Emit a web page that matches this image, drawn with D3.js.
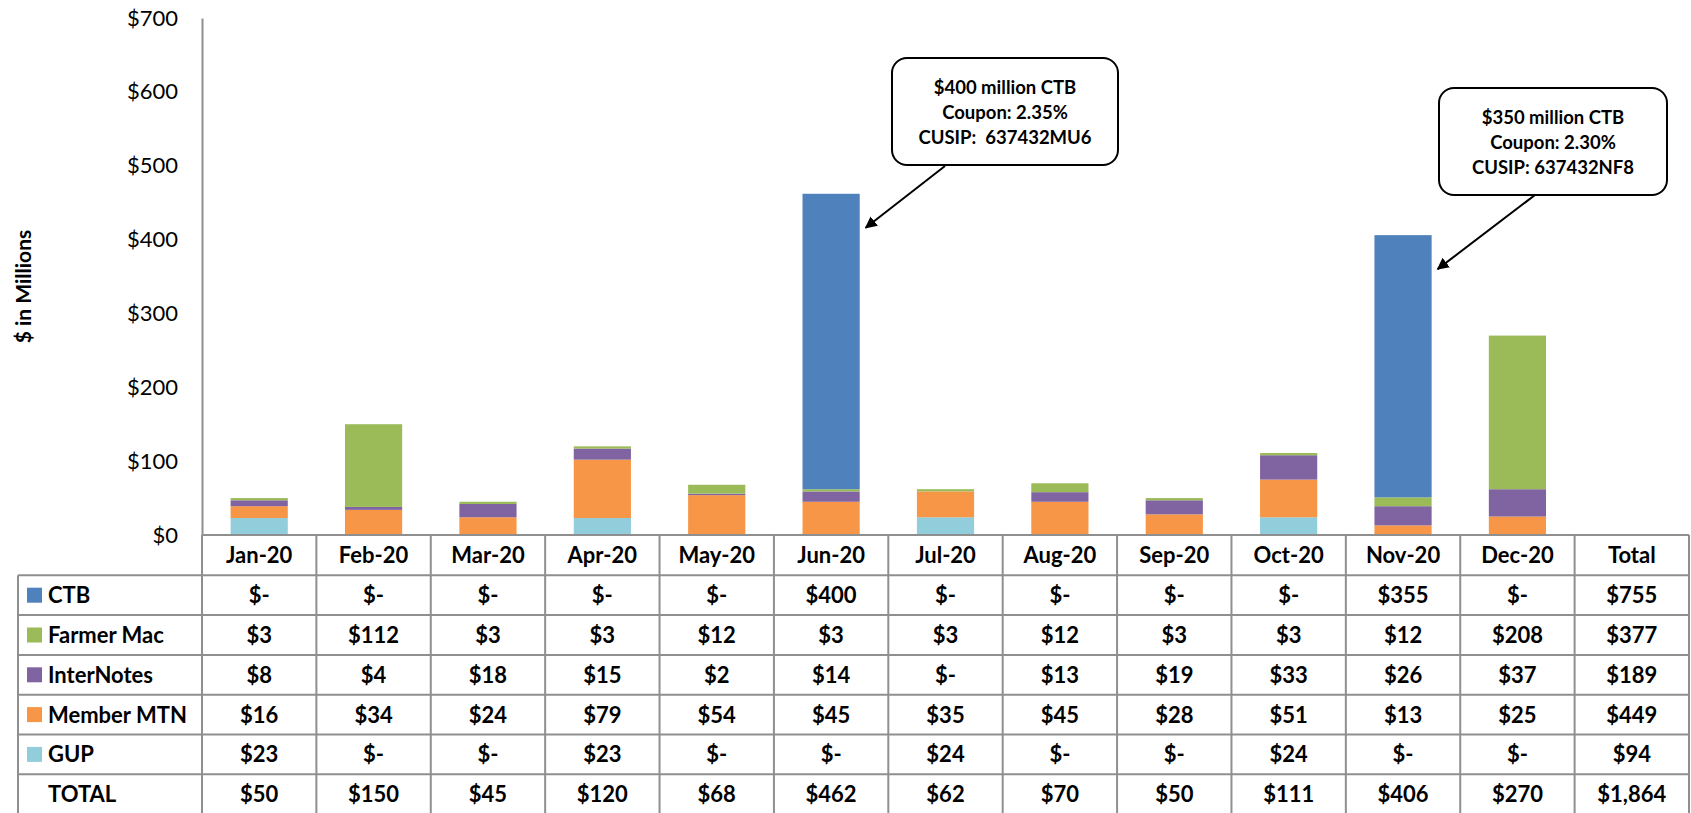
<!DOCTYPE html>
<html>
<head>
<meta charset="utf-8">
<script src="https://cdn.jsdelivr.net/npm/d3@7"></script>
<style>
  html, body { margin: 0; padding: 0; background: #fff; }
  svg { display: block; font-family: Lato, "Open Sans", sans-serif; }
  .callout text { white-space: pre; }
</style>
</head>
<body>
<svg id="chart" width="1691" height="813"></svg>
<script>
// Monthly issuance, $ in millions
const months = ["Jan-20", "Feb-20", "Mar-20", "Apr-20", "May-20", "Jun-20",
                "Jul-20", "Aug-20", "Sep-20", "Oct-20", "Nov-20", "Dec-20"];
const totalLabel = "Total";

const seriesNames = ["CTB", "Farmer Mac", "InterNotes", "Member MTN", "GUP"];
const ctb        = [0, 0, 0, 0, 0, 400, 0, 0, 0, 0, 355, 0];
const farmerMac  = [3, 112, 3, 3, 12, 3, 3, 12, 3, 3, 12, 208];
const interNotes = [8, 4, 18, 15, 2, 14, 0, 13, 19, 33, 26, 37];
const memberMtn  = [16, 34, 24, 79, 54, 45, 35, 45, 28, 51, 13, 25];
const gup        = [23, 0, 0, 23, 0, 0, 24, 0, 0, 24, 0, 0];

const yTicks = [0, 100, 200, 300, 400, 500, 600, 700];

const callouts = [
  { month: "Jun-20", lines: ["$400 million CTB", "Coupon: 2.35%", "CUSIP:  637432MU6"] },
  { month: "Nov-20", lines: ["$350 million CTB", "Coupon: 2.30%", "CUSIP: 637432NF8"] }
];

const colors = {
  "CTB": "#4F81BD",
  "Farmer Mac": "#9BBB59",
  "InterNotes": "#8064A2",
  "Member MTN": "#F79646",
  "GUP": "#92CDDC"
};

(function draw() {
  const seriesValues = {
    "CTB": ctb, "Farmer Mac": farmerMac, "InterNotes": interNotes,
    "Member MTN": memberMtn, "GUP": gup
  };

  // rows for the stack: one object per month
  const rows = months.map((m, i) => {
    const r = { month: m };
    seriesNames.forEach(s => r[s] = seriesValues[s][i]);
    return r;
  });
  const monthTotals = rows.map(r => d3.sum(seriesNames, s => r[s]));

  const svg = d3.select("#chart");
  const plotLeft = 202, plotRight = 1689, plotTop = 18, base = 535;
  const rowH = 39.8;
  const gridColor = "#8f8f8f";

  const x = d3.scaleBand().domain([...months, totalLabel]).range([plotLeft, plotRight]).padding(0);
  const y = d3.scaleLinear().domain([0, 700]).range([base, plotTop]);
  const barW = x.bandwidth() * 0.5;

  // stacked bars, bottom to top: GUP, Member MTN, InterNotes, Farmer Mac, CTB
  const stackOrder = ["GUP", "Member MTN", "InterNotes", "Farmer Mac", "CTB"];
  const stacked = d3.stack().keys(stackOrder)(rows);

  svg.append("g").selectAll("g")
    .data(stacked)
    .join("g")
    .attr("fill", d => colors[d.key])
    .selectAll("rect")
    .data(d => d)
    .join("rect")
    .attr("x", d => x(d.data.month) + (x.bandwidth() - barW) / 2)
    .attr("width", barW)
    .attr("y", d => y(d[1]))
    .attr("height", d => Math.max(0, y(d[0]) - y(d[1])));

  // value axis
  const yAxis = d3.axisLeft(y)
    .tickValues(yTicks)
    .tickSize(0)
    .tickPadding(24)
    .tickFormat(d => "$" + d);
  const ya = svg.append("g").attr("transform", `translate(${plotLeft},0)`).call(yAxis);
  ya.select(".domain").attr("stroke", gridColor).attr("stroke-width", 2);
  ya.selectAll("text")
    .attr("font-family", "Lato, sans-serif")
    .attr("font-size", 22)
    .attr("fill", "#000");

  svg.append("text")
    .attr("transform", `translate(31,${(plotTop + base) / 2 + 10}) rotate(-90)`)
    .attr("text-anchor", "middle")
    .attr("font-size", 21)
    .attr("font-weight", "bold")
    .text("$ in Millions");

  // data table under the chart
  const table = svg.append("g");
  const tableLeft = 18;
  const headerTop = base;
  const bodyTop = base + rowH + 0.5;
  const tableRows = [...seriesNames, "TOTAL"];
  const bottom = bodyTop + tableRows.length * rowH;

  table.selectAll("text.head")
    .data([...months, totalLabel])
    .join("text")
    .attr("class", "head")
    .attr("x", d => x(d) + x.bandwidth() / 2)
    .attr("y", headerTop + rowH / 2 + 8)
    .attr("text-anchor", "middle")
    .attr("font-size", 22)
    .attr("font-weight", "bold")
    .text(d => d);

  const fmt = v => v === 0 ? "$-" : "$" + d3.format(",")(v);

  tableRows.forEach((name, ri) => {
    const cy = bodyTop + ri * rowH + rowH / 2;
    const vals = name === "TOTAL" ? monthTotals : seriesValues[name];
    const rowTotal = d3.sum(vals);
    if (name !== "TOTAL") {
      table.append("rect")
        .attr("x", 27).attr("y", cy - 7.5)
        .attr("width", 15).attr("height", 15)
        .attr("fill", colors[name]);
    }
    table.append("text")
      .attr("x", 48).attr("y", cy + 8)
      .attr("font-size", 22).attr("font-weight", "bold")
      .text(name);
    table.append("g").selectAll("text")
      .data([...vals.map((v, i) => ({ c: months[i], v })), { c: totalLabel, v: rowTotal }])
      .join("text")
      .attr("x", d => x(d.c) + x.bandwidth() / 2)
      .attr("y", cy + 8)
      .attr("text-anchor", "middle")
      .attr("font-size", 22).attr("font-weight", "bold")
      .text(d => fmt(d.v));
  });

  // table rules
  const hLines = [{ x1: plotLeft, x2: plotRight, y: headerTop }];
  for (let i = 0; i <= tableRows.length; i++) hLines.push({ x1: tableLeft, x2: plotRight, y: bodyTop + i * rowH });
  table.append("g").selectAll("line")
    .data(hLines)
    .join("line")
    .attr("x1", d => d.x1).attr("x2", d => d.x2)
    .attr("y1", d => d.y).attr("y2", d => d.y)
    .attr("stroke", gridColor).attr("stroke-width", 2);

  const colEdges = [...months, totalLabel].map(c => x(c)).concat([plotRight]);
  table.append("g").selectAll("line")
    .data(colEdges)
    .join("line")
    .attr("x1", d => d).attr("x2", d => d)
    .attr("y1", headerTop).attr("y2", bottom)
    .attr("stroke", gridColor).attr("stroke-width", 2);
  table.append("line")
    .attr("x1", tableLeft).attr("x2", tableLeft)
    .attr("y1", bodyTop).attr("y2", bottom)
    .attr("stroke", gridColor).attr("stroke-width", 2);

  // callouts with arrows
  svg.append("defs").append("marker")
    .attr("id", "arrowhead")
    .attr("viewBox", "0 0 10 10")
    .attr("refX", 9).attr("refY", 5)
    .attr("markerWidth", 6).attr("markerHeight", 6)
    .attr("orient", "auto")
    .append("path")
    .attr("d", "M0,0 L10,5 L0,10 z")
    .attr("fill", "#000");

  const boxes = [
    { bx: 892, by: 58, bw: 226, bh: 107, sx: 945, sy: 166 },
    { bx: 1439, by: 88, bw: 228, bh: 107, sx: 1535, sy: 195 }
  ];

  callouts.forEach((c, i) => {
    const b = boxes[i];
    const mi = months.indexOf(c.month);
    const tipX = x(c.month) + (x.bandwidth() + barW) / 2 + 6;
    const tipY = y(monthTotals[mi]) + 34;
    const g = svg.append("g").attr("class", "callout");
    g.append("line")
      .attr("x1", b.sx).attr("y1", b.sy)
      .attr("x2", tipX).attr("y2", tipY)
      .attr("stroke", "#000").attr("stroke-width", 2)
      .attr("marker-end", "url(#arrowhead)");
    g.append("rect")
      .attr("x", b.bx).attr("y", b.by)
      .attr("width", b.bw).attr("height", b.bh)
      .attr("rx", 15).attr("ry", 15)
      .attr("fill", "#fff").attr("stroke", "#000").attr("stroke-width", 2);
    g.append("g").selectAll("text")
      .data(c.lines)
      .join("text")
      .attr("x", b.bx + b.bw / 2)
      .attr("y", (d, k) => b.by + 36 + k * 25)
      .attr("text-anchor", "middle")
      .attr("font-size", 18.5).attr("font-weight", "bold")
      .text(d => d);
  });
})();
</script>
</body>
</html>
